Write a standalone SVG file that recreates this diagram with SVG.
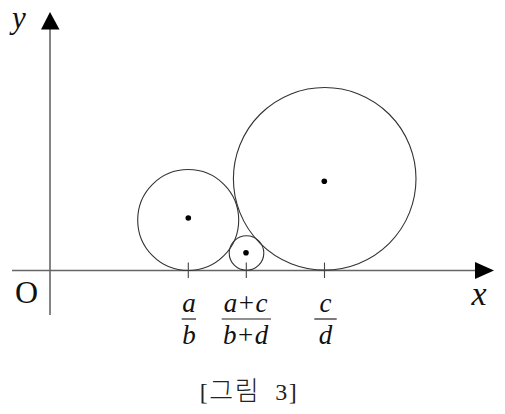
<svg xmlns="http://www.w3.org/2000/svg" width="505" height="414" viewBox="0 0 505 414">
<style>
.axis{stroke:#666;stroke-width:1.6;fill:none}
.circ{stroke:#333;stroke-width:1.1;fill:none}
.tick{stroke:#444;stroke-width:1.1}
.dot{fill:#000}
.it{font-family:"Liberation Serif","Times New Roman",serif;font-style:italic;fill:#111}
.rm{font-family:"Liberation Serif","Times New Roman",serif;fill:#111}
.bar{stroke:#222;stroke-width:1.2}
.cap{font-family:"Liberation Serif","Noto Sans CJK KR",serif;font-size:24px;letter-spacing:1.5px;fill:#222}
.ko{font-family:"Noto Sans CJK KR",sans-serif;font-weight:300;font-size:26px}
</style>
<g id="connectors">
<line class="axis" x1="12" y1="270.5" x2="477" y2="270.5"/>
<polygon points="475,262 494,270.5 475,279" fill="#000"/>
<line class="axis" x1="50" y1="28" x2="50" y2="315"/>
<polygon points="41,29.5 50,12 59.5,29.5" fill="#000"/>
</g>
<g id="circle-ab">
<circle class="circ" cx="188.2" cy="220" r="50.5"/>
<circle class="dot" cx="188.3" cy="218" r="2.8"/>
<line class="tick" x1="188.3" y1="262.5" x2="188.3" y2="278"/>
</g>
<g id="circle-mid">
<circle class="circ" cx="246.5" cy="253" r="17.3"/>
<circle class="dot" cx="246" cy="252.7" r="2.8"/>
<line class="tick" x1="246.3" y1="262.5" x2="246.3" y2="278"/>
</g>
<g id="circle-cd">
<circle class="circ" cx="324.7" cy="178.8" r="91.3"/>
<circle class="dot" cx="324.3" cy="181.3" r="2.8"/>
<line class="tick" x1="324.5" y1="262.5" x2="324.5" y2="278"/>
</g>
<g id="labels">
<text class="it" x="19" y="28" font-size="31" text-anchor="middle">y</text>
<text class="it" x="479" y="305" font-size="34" text-anchor="middle">x</text>
<text class="rm" x="26.5" y="303" font-size="32" text-anchor="middle">O</text>
<g id="frac-ab">
<text class="it" x="189" y="312" font-size="27" text-anchor="middle">a</text>
<line class="bar" x1="181.7" y1="319" x2="196" y2="319"/>
<text class="it" x="189" y="344" font-size="27" text-anchor="middle">b</text>
</g>
<g id="frac-mid">
<text x="246.3" y="312" font-size="27" text-anchor="middle" letter-spacing="1.5"><tspan class="it">a</tspan><tspan class="rm">+</tspan><tspan class="it">c</tspan></text>
<line class="bar" x1="221.7" y1="319" x2="271" y2="319"/>
<text x="246.3" y="344" font-size="27" text-anchor="middle" letter-spacing="1.5"><tspan class="it">b</tspan><tspan class="rm">+</tspan><tspan class="it">d</tspan></text>
</g>
<g id="frac-cd">
<text class="it" x="325.5" y="312" font-size="27" text-anchor="middle">c</text>
<line class="bar" x1="314.3" y1="319" x2="336.7" y2="319"/>
<text class="it" x="325.5" y="344" font-size="27" text-anchor="middle">d</text>
</g>
<text class="cap" x="249" y="400" text-anchor="middle" xml:space="preserve">[<tspan class="ko">그림</tspan>  3]</text>
</g>
</svg>
